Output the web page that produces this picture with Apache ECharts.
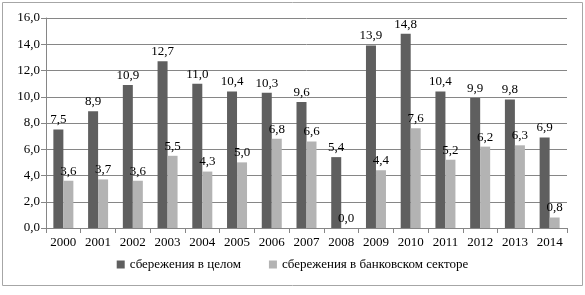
<!DOCTYPE html>
<html><head><meta charset="utf-8">
<script src="https://cdn.jsdelivr.net/npm/echarts@6/dist/echarts.min.js"></script>
<style>html,body{margin:0;padding:0;background:#fff}#c{width:585px;height:295px}</style>
</head><body><div id="c"></div>
<script>
const categories = ['2000','2001','2002','2003','2004','2005','2006','2007','2008','2009','2010','2011','2012','2013','2014'];
const totalSavings = [7.5,8.9,10.9,12.7,11.0,10.4,10.3,9.6,5.4,13.9,14.8,10.4,9.9,9.8,6.9];
const bankSavings = [3.6,3.7,3.6,5.5,4.3,5.0,6.8,6.6,0.0,4.4,7.6,5.2,6.2,6.3,0.8];
const seriesNames = ['сбережения в целом','сбережения в банковском секторе'];
const font = '"Liberation Serif", "Times New Roman", serif';
const fmt = v => v.toFixed(1).replace('.', ',');
const chart = echarts.init(document.getElementById('c'));
chart.setOption({
  animation: false,
  textStyle: {fontFamily: font},
  graphic: [{type:'rect', shape:{x:2.5,y:2.5,width:580,height:283}, style:{fill:'none', stroke:'#a6a6a6', lineWidth:1}, silent:true}],
  grid: {left: 46, right: 18, top: 18, bottom: 67},
  legend: {
    bottom: 19, left: 'center', itemWidth: 8, itemHeight: 8, itemGap: 28,
    icon: 'rect',
    textStyle: {fontFamily: font, fontSize: 13, color: '#000'},
    data: seriesNames
  },
  xAxis: {
    type: 'category', data: categories,
    axisLine: {lineStyle: {color: '#868686'}},
    axisTick: {show: true, lineStyle: {color: '#868686'}, length: 5},
    axisLabel: {color: '#000', fontSize: 13, fontFamily: font, margin: 8}
  },
  yAxis: {
    type: 'value', min: 0, max: 16, interval: 2,
    axisLine: {show: true, lineStyle: {color: '#868686'}},
    axisTick: {show: true, length: 5, inside: false, lineStyle: {color: '#868686'}},
    splitLine: {lineStyle: {color: '#868686'}},
    axisLabel: {color: '#000', fontSize: 13, fontFamily: font, formatter: v => fmt(v), margin: 6}
  },
  series: [
    {name: seriesNames[0], type: 'bar', data: totalSavings, barWidth: 10, barGap: '0%',
     itemStyle: {color: '#5f5f5f'},
     label: {show: true, position: 'top', distance: 3, color: '#000', fontSize: 13, fontFamily: font, formatter: p => fmt(p.value)}},
    {name: seriesNames[1], type: 'bar', data: bankSavings, barWidth: 10,
     itemStyle: {color: '#b3b3b3'},
     label: {show: true, position: 'top', distance: 3, color: '#000', fontSize: 13, fontFamily: font, formatter: p => fmt(p.value)}}
  ]
});
</script></body></html>
